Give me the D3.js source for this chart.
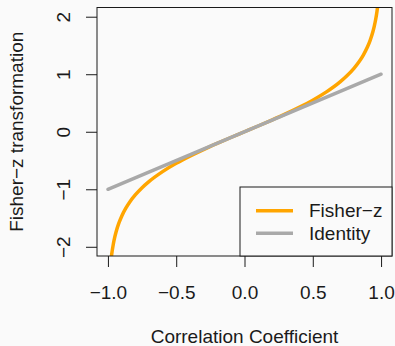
<!DOCTYPE html>
<html>
<head>
<meta charset="utf-8">
<script src="https://cdn.jsdelivr.net/npm/d3@7"></script>
<style>
  html, body { margin: 0; padding: 0; background: #fafafa; }
  svg { display: block; }
  text { font-family: "Liberation Sans", Arial, Helvetica, sans-serif; fill: #1a1a1a; }
</style>
</head>
<body>
<script>
// ---- data ----
const rValues = [-0.99, -0.98, -0.974, -0.97, -0.96, -0.95, -0.94, -0.92, -0.9, -0.87, -0.84, -0.8, -0.75, -0.7, -0.6, -0.5, -0.4, -0.3, -0.2, -0.1, 0,
                 0.1, 0.2, 0.3, 0.4, 0.5, 0.6, 0.7, 0.75, 0.8, 0.84, 0.87, 0.9, 0.92, 0.94, 0.95, 0.96, 0.97, 0.974, 0.98, 0.99];
const fisherZ = [-2.647, -2.298, -2.165, -2.092, -1.946, -1.832, -1.738, -1.589, -1.472, -1.333, -1.221, -1.099, -0.973, -0.867, -0.693, -0.549, -0.424, -0.310, -0.203, -0.100, 0,
                 0.100, 0.203, 0.310, 0.424, 0.549, 0.693, 0.867, 0.973, 1.099, 1.221, 1.333, 1.472, 1.589, 1.738, 1.832, 1.946, 2.092, 2.165, 2.298, 2.647];
const identityR = [-1, 1];
const identityZ = [-1, 1];
const xTicks = [-1.0, -0.5, 0.0, 0.5, 1.0];
const xTickLabels = ["\u22121.0", "\u22120.5", "0.0", "0.5", "1.0"];
const yTicks = [-2, -1, 0, 1, 2];
const yTickLabels = ["\u22122", "\u22121", "0", "1", "2"];
const seriesNames = ["Fisher\u2212z", "Identity"];
const seriesColors = ["#FFA500", "#A9A9A9"];
const xTitle = "Correlation Coefficient";
const yTitle = "Fisher\u2212z transformation";

// ---- layout ----
const W = 395, H = 346;
const plot = { left: 97, right: 392, top: 7.5, bottom: 256 };
const FS = 19;

const svg = d3.select("body").append("svg").attr("width", W).attr("height", H);
svg.append("rect").attr("width", W).attr("height", H).attr("fill", "#fafafa");

const x = d3.scaleLinear().domain([-1.08, 1.08]).range([plot.left, plot.right]);
const y = d3.scaleLinear().domain([-2.16, 2.16]).range([plot.bottom, plot.top]);

svg.append("clipPath").attr("id", "clip").append("rect")
  .attr("x", plot.left).attr("y", plot.top)
  .attr("width", plot.right - plot.left).attr("height", plot.bottom - plot.top);

const g = svg.append("g").attr("clip-path", "url(#clip)");

const fisherData = rValues.map((r, i) => [r, fisherZ[i]]);
const idData = identityR.map((r, i) => [r, identityZ[i]]);
const line = d3.line().x(d => x(d[0])).y(d => y(d[1])).curve(d3.curveMonotoneX);

g.append("path").datum(fisherData).attr("d", line)
  .attr("fill", "none").attr("stroke", seriesColors[0]).attr("stroke-width", 3.5)
  .attr("stroke-linecap", "round").attr("stroke-linejoin", "round");
g.append("path").datum(idData).attr("d", line)
  .attr("fill", "none").attr("stroke", seriesColors[1]).attr("stroke-width", 3.5)
  .attr("stroke-linecap", "round");

// box
svg.append("rect").attr("x", plot.left).attr("y", plot.top)
  .attr("width", plot.right - plot.left).attr("height", plot.bottom - plot.top)
  .attr("fill", "none").attr("stroke", "#1a1a1a").attr("stroke-width", 1);

// axes
const xAxis = d3.axisBottom(x).tickValues(xTicks).tickSize(11).tickPadding(20)
  .tickFormat((d, i) => xTickLabels[i]);
const xa = svg.append("g").attr("transform", `translate(0,${plot.bottom})`).call(xAxis);
xa.select(".domain").remove();
xa.selectAll("line").attr("stroke", "#1a1a1a");
xa.selectAll("text").attr("font-size", FS).attr("font-family", "Liberation Sans, Arial, sans-serif")
  .attr("fill", "#1a1a1a").attr("dy", "0").attr("y", 43);

const yAxis = d3.axisLeft(y).tickValues(yTicks).tickSize(11)
  .tickFormat((d, i) => yTickLabels[i]);
const ya = svg.append("g").attr("transform", `translate(${plot.left},0)`).call(yAxis);
ya.select(".domain").remove();
ya.selectAll("line").attr("stroke", "#1a1a1a");
ya.selectAll("text").attr("font-size", FS).attr("font-family", "Liberation Sans, Arial, sans-serif")
  .attr("fill", "#1a1a1a")
  .attr("x", null).attr("dy", null)
  .attr("text-anchor", "middle")
  .attr("transform", "translate(-27,0) rotate(-90)");

// titles
svg.append("text").attr("x", (x(-1) + x(1)) / 2).attr("y", 343)
  .attr("text-anchor", "middle").attr("font-size", FS).text(xTitle);
svg.append("text").attr("transform", `translate(23,${y(0)}) rotate(-90)`)
  .attr("text-anchor", "middle").attr("font-size", FS).text(yTitle);

// legend
const lg = svg.append("g");
lg.append("rect").attr("x", 240).attr("y", 187).attr("width", plot.right - 240).attr("height", plot.bottom - 187)
  .attr("fill", "#fafafa").attr("stroke", "#1a1a1a").attr("stroke-width", 1);
const rowsY = [210.7, 233.3];
seriesNames.forEach((name, i) => {
  lg.append("line").attr("x1", 256).attr("x2", 293).attr("y1", rowsY[i]).attr("y2", rowsY[i])
    .attr("stroke", seriesColors[i]).attr("stroke-width", 3.5);
  lg.append("text").attr("x", 309).attr("y", rowsY[i] + 6.5).attr("font-size", FS).text(name);
});
</script>
</body>
</html>
